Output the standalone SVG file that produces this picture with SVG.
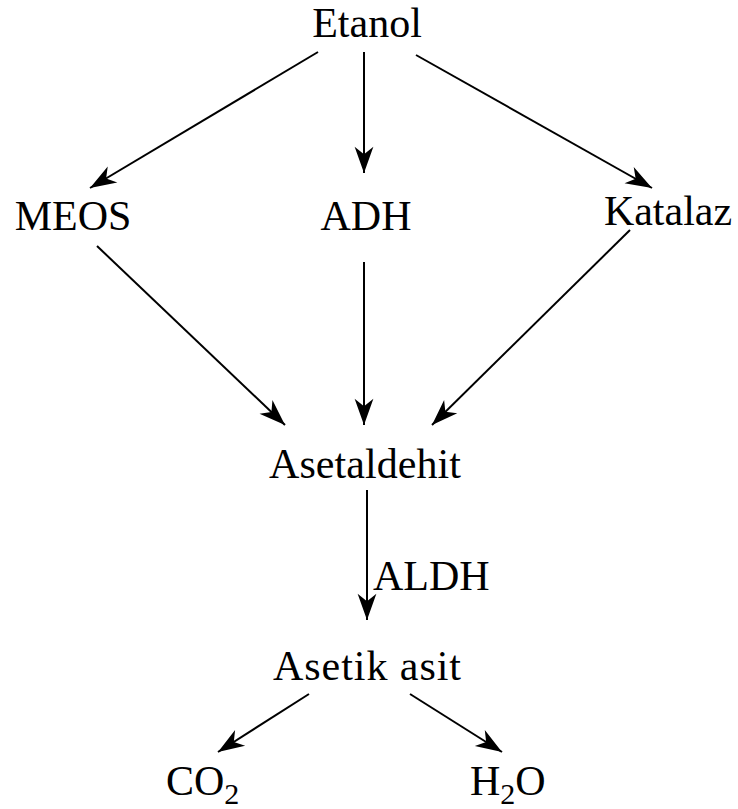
<svg xmlns="http://www.w3.org/2000/svg" width="738" height="809" viewBox="0 0 738 809">
<style>
text{font-family:"Liberation Serif","Times New Roman",serif;font-size:42px;fill:#000}
.c{text-anchor:middle}
.sub{font-size:30px}
line{stroke:#000;stroke-width:2;marker-end:url(#ah)}
</style>
<defs>
<marker id="ah" markerUnits="userSpaceOnUse" markerWidth="30" markerHeight="30" viewBox="-22 -10 24 20" refX="0" refY="0" orient="auto">
<path d="M0,0 L-21,-7.5 L-15,0 L-21,7.5 Z" fill="#000"/>
</marker>
</defs>
<rect width="738" height="809" fill="#fff"/>
<g id="connectors">
<line x1="318" y1="52" x2="90" y2="188"/>
<line x1="364" y1="52" x2="364" y2="173"/>
<line x1="416" y1="55" x2="652" y2="188"/>
<line x1="97" y1="246" x2="285" y2="425"/>
<line x1="364" y1="262" x2="364" y2="425"/>
<line x1="630" y1="230" x2="432" y2="425"/>
<line x1="367" y1="490" x2="367" y2="620"/>
<line x1="309" y1="694" x2="218" y2="752"/>
<line x1="410" y1="694" x2="502" y2="752"/>
</g>
<g id="etanol"><text class="c" x="367" y="37">Etanol</text></g>
<g id="meos"><text class="c" x="73" y="230">MEOS</text></g>
<g id="adh"><text class="c" x="366" y="230">ADH</text></g>
<g id="katalaz"><text class="c" x="668" y="225">Katalaz</text></g>
<g id="asetaldehit"><text class="c" x="365" y="478" textLength="192">Asetaldehit</text></g>
<g id="aldh"><text x="373" y="590">ALDH</text></g>
<g id="asetik"><text class="c" x="367" y="680" textLength="188">Asetik asit</text></g>
<g id="co2"><text x="166" y="795">CO<tspan class="sub" dy="9">2</tspan></text></g>
<g id="h2o"><text x="470" y="795">H<tspan class="sub" dy="9">2</tspan><tspan dy="-9">O</tspan></text></g>
</svg>
